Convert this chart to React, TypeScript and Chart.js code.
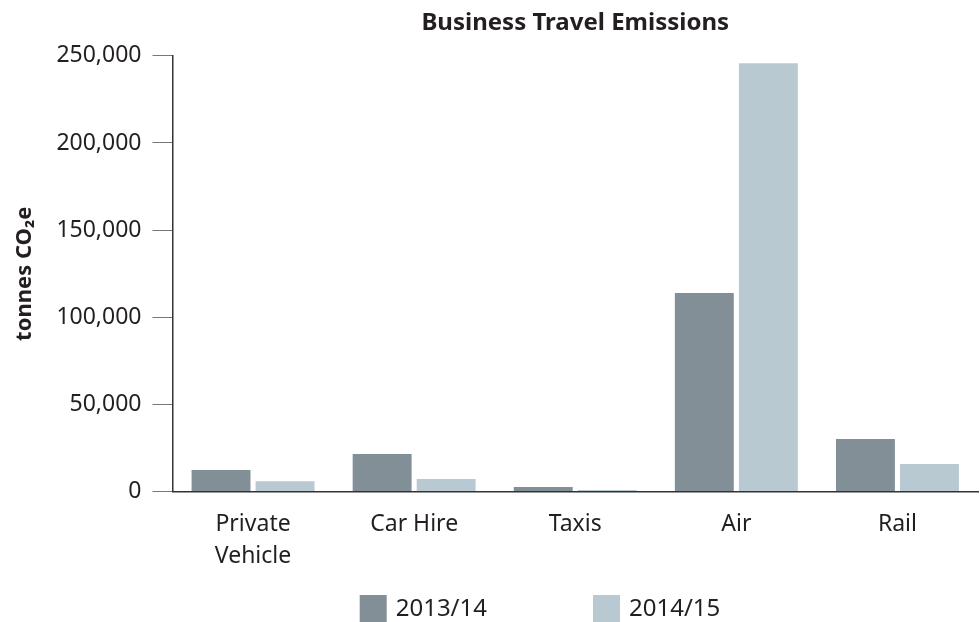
import React, { useEffect, useRef } from "react";
import { Chart, registerables } from "chart.js";

Chart.register(...registerables);

const categories: (string | string[])[] = [["Private", "Vehicle"], "Car Hire", "Taxis", "Air", "Rail"];
const series2013: number[] = [12400, 21500, 2600, 114000, 30200];
const series2014: number[] = [6000, 7200, 900, 245700, 15800];
const seriesLabels: string[] = ["2013/14", "2014/15"];
const seriesColors: string[] = ["#838f96", "#b9c9d1"];
const yTicks: number[] = [0, 50000, 100000, 150000, 200000, 250000];

const FONT = "'Noto Sans', 'Open Sans', sans-serif";
const TEXT = "#231f20";

const legendPlugin = {
  id: "customLegend",
  afterDraw(chart: any) {
    const ctx = chart.ctx;
    const box = 27;
    const gapText = 9;
    const itemGap = 106;
    ctx.save();
    ctx.font = `24px ${FONT}`;
    const widths = seriesLabels.map((l) => box + gapText + ctx.measureText(l).width);
    const total = widths.reduce((a, b) => a + b, 0) + itemGap * (widths.length - 1);
    let x = 540 - total / 2;
    const yTop = chart.height - box;
    seriesLabels.forEach((l, i) => {
      ctx.fillStyle = seriesColors[i];
      ctx.fillRect(x, yTop, box, box);
      ctx.fillStyle = TEXT;
      ctx.textBaseline = "middle";
      ctx.textAlign = "left";
      ctx.fillText(l, x + box + gapText, yTop + box / 2 + 1);
      x += widths[i] + itemGap;
    });
    ctx.restore();
  },
};

export default function App() {
  const ref = useRef<HTMLCanvasElement | null>(null);
  useEffect(() => {
    if (!ref.current) return;
    const chart = new Chart(ref.current, {
      type: "bar",
      data: {
        labels: categories,
        datasets: [
          {
            label: seriesLabels[0],
            data: series2013,
            backgroundColor: seriesColors[0],
            categoryPercentage: 0.795,
            barPercentage: 0.92,
          },
          {
            label: seriesLabels[1],
            data: series2014,
            backgroundColor: seriesColors[1],
            categoryPercentage: 0.795,
            barPercentage: 0.92,
          },
        ],
      },
      plugins: [legendPlugin],
      options: {
        animation: false,
        responsive: true,
        maintainAspectRatio: false,
        layout: { padding: { left: 0, right: 2, top: 0, bottom: 32 } },
        plugins: {
          legend: { display: false },
          tooltip: { enabled: false },
          title: {
            display: true,
            fullSize: false,
            text: "Business Travel Emissions",
            color: TEXT,
            font: { family: FONT, size: 24, weight: "bold" },
            padding: { top: 9, bottom: 18 },
          },
        },
        scales: {
          x: {
            grid: { display: false, drawTicks: false },
            border: { display: true, color: "#333", width: 1.5 },
            ticks: {
              color: TEXT,
              font: { family: FONT, size: 23, lineHeight: 1.4 },
              padding: 17,
              maxRotation: 0,
            },
          },
          y: {
            min: 0,
            max: 250000,
            afterBuildTicks: (scale: any) => {
              scale.ticks = yTicks.map((v) => ({ value: v }));
            },
            grid: { drawOnChartArea: false, drawTicks: true, tickLength: 20, color: "#777" },
            border: { display: true, color: "#333", width: 1.5 },
            ticks: {
              color: TEXT,
              font: { family: FONT, size: 23 },
              padding: 11,
              callback: (v: any) => Number(v).toLocaleString("en-US"),
            },
            title: {
              display: true,
              text: "tonnes CO₂e",
              color: TEXT,
              font: { family: FONT, size: 22, weight: "bold" },
              padding: { top: 12, bottom: 7 },
            },
          },
        },
      },
    });
    return () => chart.destroy();
  }, []);
  return (
    <div style={{ position: "absolute", left: 0, top: 0, width: 980, height: 622, background: "#fff" }}>
      <canvas ref={ref} />
    </div>
  );
}
